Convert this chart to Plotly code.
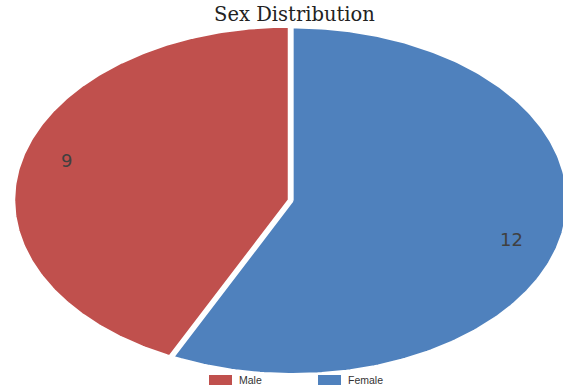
import numpy as np
import plotly.graph_objects as go

# ---- data ----
categories = ["Female", "Male"]
values = [12, 9]
colors = ["#4F81BD", "#C0504D"]
explode_px = [3.5, 0.0]          # small pull-out of the Female slice (pixels)
legend_order = ["Male", "Female"]
title_text = "Sex Distribution"

# ---- geometry (pixels) ----
W, H = 563, 390
CX, CY, RX, RY = 289, 200, 275, 173.5
label_r = 0.84
label_shift_deg = 3.0

total = float(sum(values))
fig = go.Figure()

start = 0.0  # degrees clockwise from 12 o'clock
slices = []
for cat, val, col, ex in zip(categories, values, colors, explode_px):
    span = 360.0 * val / total
    mid = np.radians(start + span / 2)
    ox, oy = ex / RX * np.sin(mid), ex / RY * np.cos(mid)
    th = np.radians(np.linspace(start, start + span, 240))
    xs = np.concatenate([[0.0], np.sin(th), [0.0]]) + ox
    ys = np.concatenate([[0.0], np.cos(th), [0.0]]) + oy
    slices.append(dict(cat=cat, val=val, col=col, xs=xs, ys=ys, mid=mid))
    start += span

for s in slices:
    fig.add_trace(go.Scatter(
        x=s["xs"], y=s["ys"], mode="lines", fill="toself",
        fillcolor=s["col"], line=dict(color="white", width=2.5),
        name=s["cat"], hoverinfo="name", showlegend=False,
    ))

# value labels
for s in slices:
    a = s["mid"] + np.radians(label_shift_deg)
    fig.add_annotation(
        x=label_r * np.sin(a), y=label_r * np.cos(a),
        text=str(s["val"]), showarrow=False,
        font=dict(family="DejaVu Sans", size=18, color="#404040"),
        xref="x", yref="y",
    )

# legend (drawn as boxes + text at the bottom)
leg_x = [209, 318]
for name, lx in zip(legend_order, leg_x):
    col = colors[categories.index(name)]
    fig.add_shape(type="rect", xref="paper", yref="paper",
                  x0=lx / W, x1=(lx + 23) / W, y0=(H - 385) / H, y1=(H - 375) / H,
                  fillcolor=col, line=dict(width=0))
    fig.add_annotation(x=(lx + 28) / W, y=(H - 380) / H, xref="paper", yref="paper",
                       text=name, showarrow=False, xanchor="left", yanchor="middle",
                       font=dict(family="Liberation Sans", size=10.5, color="#333333"))

fig.update_layout(
    width=W, height=H,
    margin=dict(l=0, r=0, t=0, b=0, autoexpand=False),
    paper_bgcolor="white", plot_bgcolor="white",
    title=dict(text=title_text, x=294.5 / W, xanchor="center", y=(H - 14) / H, yanchor="middle",
               font=dict(family="DejaVu Serif", size=19.5, color="#222222")),
    xaxis=dict(domain=[0, 1], range=[(0 - CX) / RX, (W - CX) / RX], visible=False, fixedrange=True),
    yaxis=dict(domain=[0, 1], range=[(CY - H) / RY, CY / RY], visible=False, fixedrange=True),
    showlegend=False,
)

fig.write_html("out.html", config={"displayModeBar": False},
               post_script="document.body.style.margin='0';document.body.style.overflow='hidden';")
